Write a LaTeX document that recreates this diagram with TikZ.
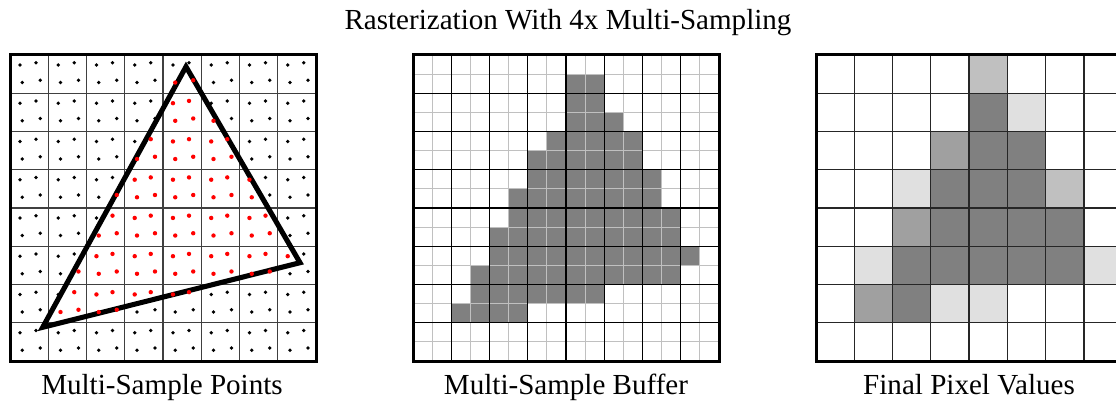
\documentclass[tikz,border=0pt]{standalone}
\usepackage{fontspec}
\setmainfont{Liberation Serif}
\definecolor{cov4}{HTML}{808080}
\definecolor{cov3}{HTML}{A0A0A0}
\definecolor{cov2}{HTML}{C0C0C0}
\definecolor{cov1}{HTML}{E0E0E0}
\definecolor{subline}{HTML}{C0C0C0}
\definecolor{sampin}{HTML}{FF0000}
\tikzset{
  frame/.style={draw=black, line width=2.25pt},
  gridA/.style={draw=black!75, line width=0.9pt},
  subgrid/.style={draw=subline, line width=0.9pt},
  pixgrid/.style={draw=black, line width=0.9pt},
  gridC/.style={draw=black!85, line width=1.1pt},
  tri/.style={draw=black, line width=3.8pt, line join=miter},
  caption/.style={anchor=base, inner sep=0pt, font=\fontsize{21.8}{24}\selectfont},
}
\begin{document}
\begin{tikzpicture}[x=0.75pt, y=-0.75pt]
\clip (0,0) rectangle (1116,403);
\fill[white] (0,0) rectangle (1116,403);
\def\cs{38.25}
\def\hs{19.125}
% first and last covered sub-sample column for each sub-sample row
\def\rowA{{99,8,8,8,7,6,6,5,5,4,4,3,3,2,99,99}}
\def\rowB{{-1,9,9,10,11,11,12,12,13,13,14,13,9,5,-1,-1}}

% ---------- sample points ----------
\begin{scope}[shift={(10,55)}]
  \foreach \i in {1,...,7}{
    \draw[gridA] (\i*\cs,0) -- (\i*\cs,8*\cs);
    \draw[gridA] (0,\i*\cs) -- (8*\cs,\i*\cs);
  }
  \coordinate (vt) at (176,11.7);
  \coordinate (vr) at (290,207.7);
  \coordinate (vl) at (32.7,272.3);
  \draw[tri] (vt) -- (vr) -- (vl) -- cycle;
  \foreach \px in {0,...,7}{
    \foreach \py in {0,...,7}{
      \foreach \sx/\sy/\ox/\oy in {0/0/0.26/0.26, 1/0/0.68/0.20, 0/1/0.32/0.72, 1/1/0.79/0.66}{
        \pgfmathtruncatemacro\cc{2*\px+\sx}
        \pgfmathtruncatemacro\rr{2*\py+\sy}
        \pgfmathtruncatemacro\lo{\rowA[\rr]}
        \pgfmathtruncatemacro\hi{\rowB[\rr]}
        \pgfmathtruncatemacro\hit{and(\cc>=\lo,\cc<=\hi)}
        \ifnum\hit=1
          \fill[sampin] ({(\px+\ox)*\cs},{(\py+\oy)*\cs}) circle[radius=1.65pt];
        \else
          \fill[black] ({(\px+\ox)*\cs},{(\py+\oy)*\cs}) circle[radius=1.4pt];
        \fi
      }
    }
  }
  \draw[frame] (0,0) rectangle (8*\cs,8*\cs);
\end{scope}

% ---------- multi-sample buffer ----------
\begin{scope}[shift={(413,55)}]
  \foreach \r in {0,...,15}{
    \pgfmathtruncatemacro\lo{\rowA[\r]}
    \pgfmathtruncatemacro\hi{\rowB[\r]}
    \ifnum\lo>\hi\else
      \fill[cov4] (\lo*\hs,\r*\hs) rectangle ({(\hi+1)*\hs},{(\r+1)*\hs});
    \fi
  }
  \foreach \i in {1,3,...,15}{
    \draw[subgrid] (\i*\hs,0) -- (\i*\hs,8*\cs);
    \draw[subgrid] (0,\i*\hs) -- (8*\cs,\i*\hs);
  }
  \foreach \i in {1,...,7}{
    \draw[pixgrid] (\i*\cs,0) -- (\i*\cs,8*\cs);
    \draw[pixgrid] (0,\i*\cs) -- (8*\cs,\i*\cs);
  }
  \draw[frame] (0,0) rectangle (8*\cs,8*\cs);
\end{scope}

% ---------- resolved pixels ----------
\begin{scope}[shift={(816,55)}]
  \foreach \px/\py/\c in {4/0/cov2, 4/1/cov4, 5/1/cov1,
      3/2/cov3, 4/2/cov4, 5/2/cov4,
      2/3/cov1, 3/3/cov4, 4/3/cov4, 5/3/cov4, 6/3/cov2,
      2/4/cov3, 3/4/cov4, 4/4/cov4, 5/4/cov4, 6/4/cov4,
      1/5/cov1, 2/5/cov4, 3/5/cov4, 4/5/cov4, 5/5/cov4, 6/5/cov4, 7/5/cov1,
      1/6/cov3, 2/6/cov4, 3/6/cov1, 4/6/cov1}{
    \fill[\c] (\px*\cs,\py*\cs) rectangle ({(\px+1)*\cs},{(\py+1)*\cs});
  }
  \foreach \i in {1,...,7}{
    \draw[gridC] (\i*\cs,0) -- (\i*\cs,8*\cs);
    \draw[gridC] (0,\i*\cs) -- (8*\cs,\i*\cs);
  }
  \draw[frame] (0,0) rectangle (8*\cs,8*\cs);
\end{scope}

% ---------- captions ----------
\node[caption] (title) at (568,30) {Rasterization With 4x Multi-Sampling};
\node[caption] (capA) at (162,394) {Multi-Sample Points};
\node[caption] (capB) at (566,394) {Multi-Sample Buffer};
\node[caption] (capC) at (969,394) {Final Pixel Values};
\end{tikzpicture}
\end{document}
